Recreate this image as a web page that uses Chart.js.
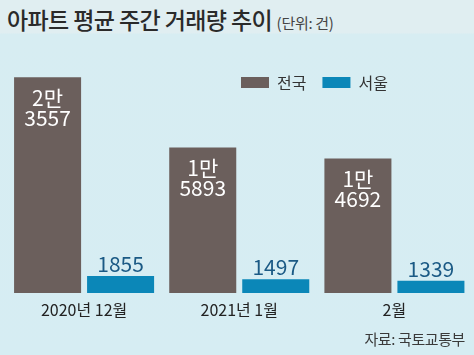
<!DOCTYPE html>
<html>
<head>
<meta charset="utf-8">
<script src="https://cdn.jsdelivr.net/npm/chart.js@4"></script>
<style>
  html, body { margin: 0; padding: 0; }
  body { width: 474px; height: 355px; overflow: hidden; background: #d7edf2; font-family: "Noto Sans CJK KR", "Noto Sans", sans-serif; }
  #wrap { position: relative; width: 474px; height: 355px; background: linear-gradient(#e0eef1 0px, #e0eef1 33px, #d7edf2 34px, #d6edf3 355px); }
  #title { position: absolute; left: 7px; top: 4px; white-space: nowrap; color: #2a2a2a; font-size: 23px; font-weight: 500; letter-spacing: -0.6px; line-height: 30px; }
  #title span { font-size: 15px; font-weight: 400; color: #444; letter-spacing: -0.3px; }
  #source { position: absolute; right: 9px; top: 329px; color: #3a3a3a; font-size: 15px; line-height: 20px; letter-spacing: -0.4px; }
  canvas { position: absolute; left: 0; top: 0; }
</style>
</head>
<body>
<div id="wrap">
  <div id="title">아파트 평균 주간 거래량 추이 <span>(단위: 건)</span></div>
  <canvas id="c" width="474" height="355"></canvas>
  <div id="source">자료: 국토교통부</div>
</div>
<script>
const categories = ['2020년 12월', '2021년 1월', '2월'];
const seriesNames = ['전국', '서울'];
const nationalValues = [23557, 15893, 14692];
const seoulValues = [1855, 1497, 1339];
const nationalLabels = [['2만', '3557'], ['1만', '5893'], ['1만', '4692']];
const seoulLabels = ['1855', '1497', '1339'];

const FONT = '"Noto Sans CJK KR", "Noto Sans", sans-serif';

const valueLabelPlugin = {
  id: 'valueLabels',
  afterDatasetsDraw(chart) {
    const ctx = chart.ctx;
    ctx.save();
    ctx.textAlign = 'center';
    ctx.textBaseline = 'middle';
    ctx.font = '400 21px ' + FONT;
    const m0 = chart.getDatasetMeta(0);
    m0.data.forEach((bar, i) => {
      ctx.fillStyle = '#ffffff';
      const lines = nationalLabels[i];
      ctx.fillText(lines[0], bar.x, bar.y + 20.5);
      ctx.fillText(lines[1], bar.x, bar.y + 41);
    });
    const m1 = chart.getDatasetMeta(1);
    m1.data.forEach((bar, i) => {
      ctx.fillStyle = '#1b5a85';
      ctx.fillText(seoulLabels[i], bar.x, bar.y - 12);
    });
    ctx.restore();
  }
};

const legendShiftPlugin = {
  id: 'legendShift',
  afterLayout(chart) {
    const lg = chart.legend;
    if (!lg) return;
    lg.left = 225;
    lg.right = 474;
    lg.width = lg.right - lg.left;
  }
};

new Chart(document.getElementById('c'), {
  type: 'bar',
  data: {
    labels: categories,
    datasets: [
      { label: seriesNames[0], data: nationalValues, backgroundColor: '#6b5f5c', borderWidth: 0, clip: false,
        categoryPercentage: 0.941, barPercentage: 0.918 },
      { label: seriesNames[1], data: seoulValues, backgroundColor: '#0b87b8', borderWidth: 0, clip: false,
        categoryPercentage: 0.941, barPercentage: 0.918 }
    ]
  },
  options: {
    responsive: false,
    animation: false,
    devicePixelRatio: 1,
    layout: { padding: { left: 6.5, right: 2, top: 58.5, bottom: 28.8 } },
    plugins: {
      legend: {
        position: 'top',
        align: 'start',
        labels: {
          boxWidth: 28,
          boxHeight: 11,
          padding: 16,
          color: '#333333',
          font: { family: FONT, size: 16, weight: '400' }
        }
      },
      tooltip: { enabled: false },
      title: { display: false }
    },
    scales: {
      x: {
        grid: { display: false, drawTicks: false },
        border: { display: false },
        ticks: { color: '#222222', padding: 7, font: { family: FONT, size: 16, weight: '400' } }
      },
      y: {
        display: false,
        min: 0,
        max: 21023
      }
    }
  },
  plugins: [valueLabelPlugin, legendShiftPlugin]
});
</script>
</body>
</html>
